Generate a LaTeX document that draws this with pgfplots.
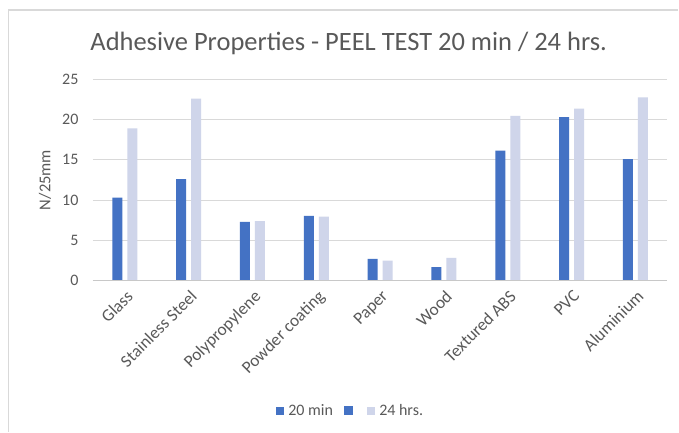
\documentclass[border=0pt]{standalone}
\usepackage{fontspec}
\setmainfont{Carlito}
\usepackage{pgfplots}
\pgfplotsset{compat=1.18}
\definecolor{barblue}{HTML}{4472C4}
\definecolor{barlight}{HTML}{CFD5EA}
\definecolor{txt}{HTML}{595959}
\definecolor{gridc}{HTML}{D9D9D9}
\definecolor{axc}{HTML}{C8C8C8}
\begin{document}
\begin{tikzpicture}[x=1pt,y=1pt]
\fill[white] (0,0) rectangle (679,432);
\draw[gridc, line width=1.3pt] (8.3,0) -- (8.3,422) -- (679,422);
\node[txt, anchor=base, font=\fontsize{26.5}{30}\selectfont] at (349,381) {Adhesive Properties - PEEL TEST 20 min / 24 hrs.};
\begin{axis}[
  at={(93pt,151pt)}, anchor=south west,
  scale only axis, width=575pt, height=201.7pt,
  ybar, bar width=10pt,
  ymin=0, ymax=25, ytick={0,5,...,25},
  xmin=-0.5, xmax=8.5, xtick={0,...,8},
  xticklabels={Glass,Stainless Steel,Polypropylene,Powder coating,Paper,Wood,Textured ABS,PVC,Aluminium},
  /pgf/number format/assume math mode=true,
  axis line style={draw=none},
  major tick length=0pt,
  ymajorgrids, grid style={gridc, line width=1pt},
  tick label style={txt, font=\fontsize{16}{18}\selectfont},
  yticklabel style={anchor=east, xshift=-11pt},
  xticklabel style={rotate=45, anchor=north east, yshift=-3pt, xshift=-2pt, font=\fontsize{17.3}{19}\selectfont},
  ylabel={N/25mm},
  ylabel style={txt, font=\fontsize{16.5}{18}\selectfont, at={(axis description cs:-0.0835,0.5)}, anchor=center},
  legend columns=3,
  legend style={at={(axis description cs:0.4487,-0.6445)}, anchor=center, draw=none, fill=none,
    font=\fontsize{16}{18}\selectfont, text=txt,
    /tikz/every odd column/.append style={column sep=2pt},
    /tikz/every even column/.append style={column sep=9pt}},
  clip=false,
]
\addplot[fill=barblue, draw=none, bar shift=-7.5pt,
  legend image code/.code={\fill[barblue] (0pt,-4pt) rectangle (8pt,4pt);}]
  coordinates {(0,10.3) (1,12.6) (2,7.3) (3,8.05) (4,2.7) (5,1.7) (6,16.15) (7,20.3) (8,15.1)};
\addlegendentry{20 min}
\addlegendimage{legend image code/.code={\fill[barblue] (0pt,-4pt) rectangle (8pt,4pt);}}
\addlegendentry{}
\addplot[fill=barlight, draw=none, bar shift=7.5pt,
  legend image code/.code={\fill[barlight] (0pt,-4pt) rectangle (8pt,4pt);}]
  coordinates {(0,18.9) (1,22.6) (2,7.4) (3,7.95) (4,2.5) (5,2.85) (6,20.45) (7,21.35) (8,22.75)};
\addlegendentry{24 hrs.}
\draw[axc, line width=1pt] (axis cs:-0.5,0) -- (axis cs:8.5,0);
\end{axis}
\end{tikzpicture}
\end{document}
